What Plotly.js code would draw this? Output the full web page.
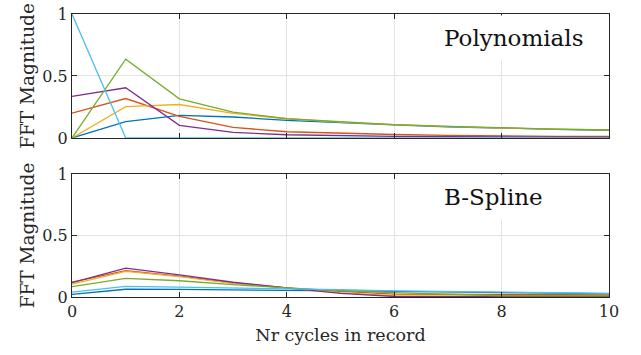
<!DOCTYPE html>
<html><head><meta charset="utf-8">
<script src="https://cdn.plot.ly/plotly-3.0.1.min.js"></script>
<style>html,body{margin:0;padding:0;background:#fff}#plot{width:641px;height:355px}</style>
</head><body><div id="plot"></div>
<script>
const cycles = [0,1,2,3,4,5,6,7,8,9,10];
const seriesColors = ['#0072BD','#D95319','#EDB120','#7E2F8E','#77AC30','#4DBEEE'];

// Polynomials (top panel)
const polyBlue   = [0, 0.131, 0.182, 0.169, 0.142, 0.122, 0.105, 0.090, 0.078, 0.070, 0.062];
const polyOrange = [0.200, 0.318, 0.174, 0.085, 0.050, 0.036, 0.028, 0.020, 0.015, 0.013, 0.012];
const polyYellow = [0, 0.252, 0.270, 0.198, 0.155, 0.128, 0.108, 0.093, 0.080, 0.072, 0.065];
const polyPurple = [0.335, 0.405, 0.102, 0.045, 0.026, 0.018, 0.013, 0.010, 0.007, 0.006, 0.005];
const polyGreen  = [0, 0.635, 0.316, 0.209, 0.155, 0.128, 0.107, 0.093, 0.080, 0.072, 0.064];
const polyLight  = [1, 0, 0, 0, 0, 0, 0, 0, 0, 0, 0];

// B-Spline (bottom panel)
const bsBlue   = [0.022, 0.063, 0.062, 0.060, 0.057, 0.050, 0.045, 0.040, 0.035, 0.030, 0.027];
const bsOrange = [0.120, 0.215, 0.170, 0.115, 0.075, 0.045, 0.024, 0.023, 0.022, 0.020, 0.018];
const bsYellow = [0.105, 0.208, 0.165, 0.110, 0.072, 0.035, 0.010, 0.008, 0.008, 0.008, 0.008];
const bsPurple = [0.117, 0.234, 0.180, 0.120, 0.074, 0.030, 0.004, 0.003, 0.002, 0.002, 0.002];
const bsGreen  = [0.084, 0.152, 0.132, 0.100, 0.075, 0.050, 0.035, 0.020, 0.010, 0.010, 0.010];
const bsLight  = [0.040, 0.087, 0.080, 0.075, 0.068, 0.060, 0.050, 0.045, 0.038, 0.034, 0.030];

const xTicks = [0,2,4,6,8,10];
const yTicks = [0,0.5,1];
const yTickText = ['0','0.5','1'];
const panelLabels = ['Polynomials','B-Spline'];
const xTitle = 'Nr cycles in record';
const yTitle = 'FFT Magnitude';

const polySets = [polyBlue, polyOrange, polyYellow, polyPurple, polyGreen, polyLight];
const bsSets = [bsBlue, bsOrange, bsYellow, bsPurple, bsGreen, bsLight];

const traces = [];
polySets.forEach((ys,i)=>traces.push({x:cycles,y:ys,type:'scatter',mode:'lines',xaxis:'x',yaxis:'y',
  line:{color:seriesColors[i],width:1.3},showlegend:false,hoverinfo:'skip'}));
bsSets.forEach((ys,i)=>traces.push({x:cycles,y:ys,type:'scatter',mode:'lines',xaxis:'x2',yaxis:'y2',
  line:{color:seriesColors[i],width:1.3},showlegend:false,hoverinfo:'skip'}));

const fam = 'DejaVu Serif';
const sz = 16;
const font = {family:fam, size:sz, color:'#262626'};
const axBase = {showline:true, linecolor:'#262626', linewidth:1, mirror:'ticks', ticks:'inside',
  ticklen:5, tickcolor:'#262626', showgrid:true, gridcolor:'#e3e3e3', gridwidth:1, zeroline:false,
  tickfont:{family:fam, size:sz, color:'#262626'}};
const yTitleFont = {family:fam, size:18.5, color:'#262626'};

const layout = {
  width:641, height:355, margin:{l:72,r:32,t:14,b:58},
  paper_bgcolor:'#fff', plot_bgcolor:'#fff', font:font, showlegend:false,
  xaxis: Object.assign({}, axBase, {domain:[0,1], anchor:'y', range:[0,10], tickvals:xTicks, showticklabels:false}),
  yaxis: Object.assign({}, axBase, {domain:[0.562,1], anchor:'x', range:[0,1], tickvals:yTicks, ticktext:yTickText,
    title:{text:yTitle, standoff:2, font:yTitleFont}}),
  xaxis2: Object.assign({}, axBase, {domain:[0,1], anchor:'y2', range:[0,10], tickvals:xTicks,
    title:{text:xTitle, standoff:8, font:{family:fam, size:17.5, color:'#262626'}}}),
  yaxis2: Object.assign({}, axBase, {domain:[0,0.4346], anchor:'x2', range:[0,1], tickvals:yTicks, ticktext:yTickText,
    title:{text:yTitle, standoff:2, font:yTitleFont}}),
  annotations:[
    {text:panelLabels[0], xref:'x', yref:'y', x:6.75, y:0.81, xanchor:'left', yanchor:'middle', showarrow:false,
     font:{size:23, family:fam, color:'#111'}, bgcolor:'#fff', borderpad:9},
    {text:panelLabels[1], xref:'x2', yref:'y2', x:6.75, y:0.81, xanchor:'left', yanchor:'middle', showarrow:false,
     font:{size:23, family:fam, color:'#111'}, bgcolor:'#fff', borderpad:9}
  ]
};
Plotly.newPlot('plot', traces, layout, {staticPlot:true, displayModeBar:false});
</script></body></html>
